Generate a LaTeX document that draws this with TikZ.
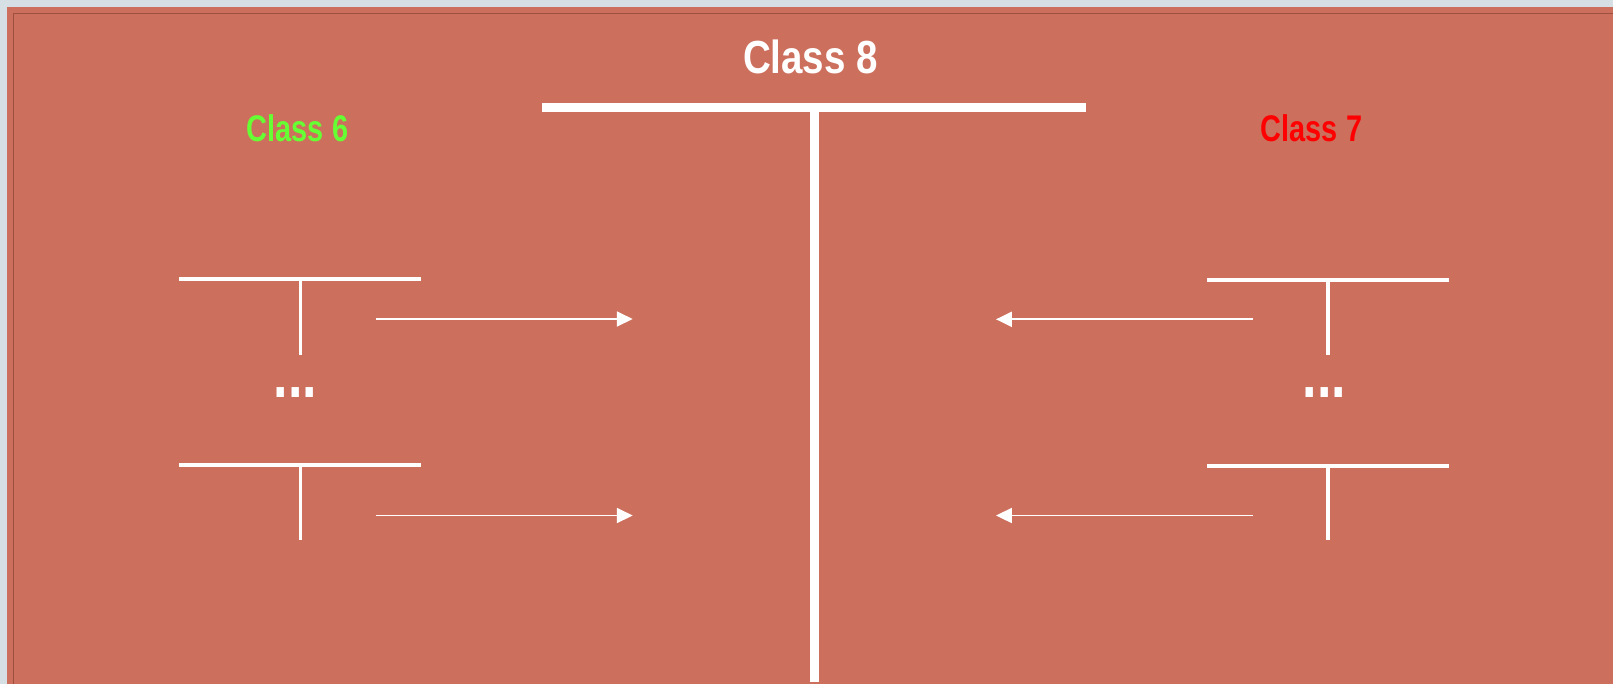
\documentclass[tikz,border=0pt]{standalone}
\usepackage{fontspec}
\setmainfont{Liberation Sans}
\newfontfamily\headfont{Liberation Sans}[FakeStretch=0.83]
\newfontfamily\subfont{Liberation Sans}[FakeStretch=0.78]
\usetikzlibrary{arrows.meta}

\definecolor{slide}{RGB}{205,111,93}
\definecolor{frameline}{RGB}{158,80,64}
\definecolor{backdrop}{RGB}{214,223,228}
\definecolor{leafgreen}{RGB}{102,255,51}

\begin{document}
\begin{tikzpicture}[x=0.02cm, y=-0.02cm,
  mainbar/.style={white, line width=5.1pt},
  bar/.style={white, line width=2.27pt},
  arr/.style={white, line width=1.1pt, -{Triangle[length=9pt, width=8.5pt]}},
  lbl/.style={inner sep=0pt, anchor=base, font=\subfont\bfseries\fontsize{21.1}{24}\selectfont}
]
\useasboundingbox (0,0) rectangle (1613,684);
\fill[backdrop] (0,0) rectangle (1613,684);
\fill[slide] (7,7) rectangle (1613,684);
\draw[frameline, line width=0.85pt] (13.5,684) -- (13.5,13.5) -- (1613,13.5);

% class 8
\node[inner sep=0pt, anchor=base, white, font=\headfont\bfseries\fontsize{26.4}{30}\selectfont] (c8) at (810.5,73) {Class 8};
\draw[mainbar] (542,107.2) -- (1086,107.2);
\draw[mainbar] (814.5,107.2) -- (814.5,682);

% class 6
\node[lbl, leafgreen] (c6) at (297.5,141.7) {Class 6};
\draw[bar] (179,278.7) -- (421,278.7);
\draw[bar] (300.5,278.7) -- (300.5,355);
\node[lbl, white, font=\subfont\bfseries\fontsize{38}{40}\selectfont] (dots6) at (295.5,397) {...};
\draw[bar] (179,465) -- (421,465);
\draw[bar] (300.5,465) -- (300.5,540);

% class 7
\node[lbl, red] (c7) at (1311.5,141.7) {Class 7};
\draw[bar] (1207,280) -- (1449,280);
\draw[bar] (1328,280) -- (1328,355);
\node[lbl, white, font=\subfont\bfseries\fontsize{38}{40}\selectfont] (dots7) at (1324.3,397) {...};
\draw[bar] (1207,466) -- (1449,466);
\draw[bar] (1328,466) -- (1328,540);

% arrows
\coordinate (l1s) at (375.7,319);
\coordinate (l1e) at (632.7,319);
\coordinate (l2s) at (375.7,515.5);
\coordinate (l2e) at (632.7,515.5);
\coordinate (r1s) at (1252.7,319.3);
\coordinate (r1e) at (996,319.3);
\coordinate (r2s) at (1252.7,515.5);
\coordinate (r2e) at (996,515.5);
\draw[arr] (l1s) -- (l1e);
\draw[arr] (l2s) -- (l2e);
\draw[arr] (r1s) -- (r1e);
\draw[arr] (r2s) -- (r2e);
\end{tikzpicture}
\end{document}
